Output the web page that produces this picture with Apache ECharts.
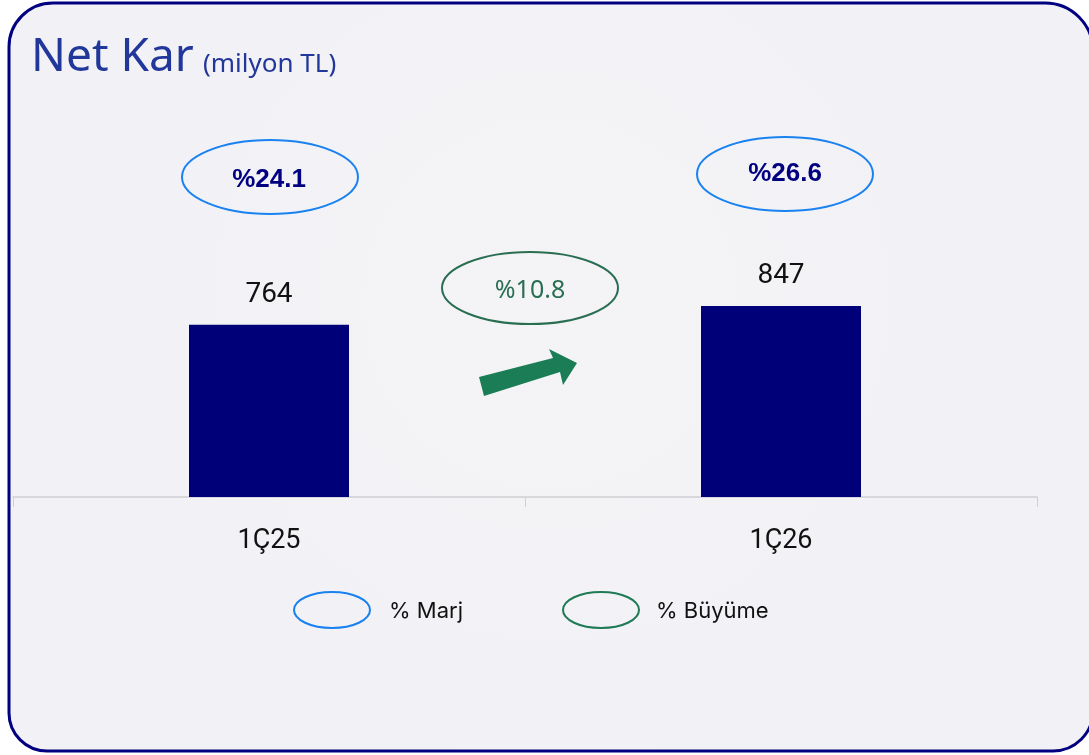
<!DOCTYPE html>
<html><head><meta charset="utf-8">
<script src="https://cdn.jsdelivr.net/npm/echarts@6/dist/echarts.min.js"></script>
<style>html,body{margin:0;padding:0;background:#fff}#c{width:1089px;height:755px}</style>
</head><body><div id="c"></div>
<script>
const categories = ['1Ç25', '1Ç26'];
const netKar = [764, 847];
const marginLabels = ['%24.1', '%26.6'];
const growthLabel = '%10.8';
const legendLabels = ['% Marj', '% Büyüme'];

const chart = echarts.init(document.getElementById('c'));
const option = {
  backgroundColor: '#ffffff',
  animation: false,
  grid: { left: 13, right: 52, top: 46, bottom: 258, containLabel: false },
  xAxis: {
    type: 'category', data: categories,
    axisLine: { lineStyle: { color: '#d0d0d4', width: 1.5 } },
    axisTick: { show: true, length: 10, lineStyle: { color: '#d0d0d4' } },
    axisLabel: { color: '#111', fontSize: 27, fontFamily: 'Roboto', margin: 31 }
  },
  yAxis: { type: 'value', min: 0, max: 2000, show: false, splitLine: { show: false } },
  series: [{
    type: 'bar', data: netKar, barWidth: 160,
    itemStyle: { color: '#000078' },
    label: { show: true, position: 'top', distance: 16, color: '#111', fontSize: 28, fontFamily: 'Roboto' },
    z: 5
  }],
  graphic: []
};
chart.setOption(option);

const g = [];
// frame
g.push({ type: 'rect', z: -10, shape: { x: 9, y: 3, width: 1084, height: 748, r: [44, 48, 40, 38] },
  style: { fill: { type: 'radial', x: 0.5, y: 0.4, r: 0.8, colorStops: [{offset:0,color:'#f4f4f6'},{offset:1,color:'#f1f1f6'}] }, stroke: '#000080', lineWidth: 3 } });
// title
g.push({ type: 'text', x: 31, y: 58, z: 10, style: { text: 'Net Kar', fill: '#22379a', font: '46px "Noto Sans"', verticalAlign: 'middle' } });
g.push({ type: 'text', x: 203, y: 65, z: 10, style: { text: '(milyon TL)', fill: '#22379a', font: '26px "Noto Sans"', verticalAlign: 'middle' } });

const ys = [177, 174];
const ty = [180, 174];
categories.forEach((c, i) => {
  const x = chart.convertToPixel({ xAxisIndex: 0 }, c);
  g.push({ type: 'ellipse', z: 10, shape: { cx: x + 1 + i * 3, cy: ys[i], rx: 88, ry: 37 }, style: { fill: 'none', stroke: '#1a82f0', lineWidth: 2 } });
  g.push({ type: 'text', z: 11, x: x + i * 4, y: ty[i], style: { text: marginLabels[i], fill: '#000080', font: 'bold 26px "Liberation Sans"', align: 'center', verticalAlign: 'middle' } });
});
// growth ellipse
const x0 = chart.convertToPixel({ xAxisIndex: 0 }, categories[0]);
const x1 = chart.convertToPixel({ xAxisIndex: 0 }, categories[1]);
const mx = (x0 + x1) / 2 + 5;
g.push({ type: 'ellipse', z: 10, shape: { cx: mx, cy: 288, rx: 88, ry: 36 }, style: { fill: 'none', stroke: '#2a6e52', lineWidth: 2 } });
g.push({ type: 'text', z: 11, x: mx, y: 291, style: { text: growthLabel, fill: '#2a6e52', font: '25px "Noto Sans"', align: 'center', verticalAlign: 'middle' } });
// arrow
g.push({ type: 'polygon', z: 10, shape: { points: [[479,377],[553,358],[549,349],[577,363],[563,385],[560,372],[484,396]] },
  style: { fill: '#1a7d56' } });
// legend
g.push({ type: 'ellipse', z: 10, shape: { cx: 332, cy: 610, rx: 38, ry: 18 }, style: { fill: 'none', stroke: '#1a82f0', lineWidth: 2 } });
g.push({ type: 'text', z: 11, x: 389, y: 611, style: { text: legendLabels[0], fill: '#111', font: '22px Inter', verticalAlign: 'middle' } });
g.push({ type: 'ellipse', z: 10, shape: { cx: 601, cy: 610, rx: 38, ry: 18 }, style: { fill: 'none', stroke: '#1f7a55', lineWidth: 2 } });
g.push({ type: 'text', z: 11, x: 656, y: 611, style: { text: legendLabels[1], fill: '#111', font: '22px Inter', verticalAlign: 'middle' } });

chart.setOption({ graphic: g });
</script></body></html>
